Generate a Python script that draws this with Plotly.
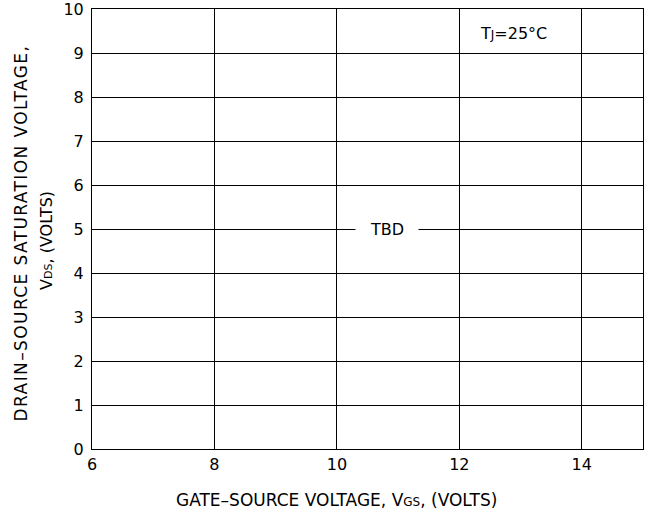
import plotly.graph_objects as go

x_range = [6, 15]
y_range = [0, 10]
x_ticks = [6, 8, 10, 12, 14]
y_ticks = list(range(0, 11))
x_title = 'GATE\u2013SOURCE VOLTAGE, V<span style="font-size:12px">GS</span>, (VOLTS)'
y_title_1 = '<span style="letter-spacing:1.4px">DRAIN\u2013SOURCE SATURATION VOLTAGE,</span>'
y_title_2 = 'V<span style="font-size:11px">DS</span>, (VOLTS)'
note_text = 'T<span style="font-size:12px">J</span>=25\u00b0C'
note_pos = (12.88, 9.45)
tbd_text = 'TBD'
tbd_pos = (10.82, 5)

FONT = "DejaVu Sans"

fig = go.Figure()
fig.add_trace(go.Scatter(x=x_range, y=y_range, mode="markers",
                         marker=dict(opacity=0), hoverinfo="skip", showlegend=False))

axis_common = dict(showline=True, linecolor="black", linewidth=1, mirror=True,
                   showgrid=True, gridcolor="black", gridwidth=1, zeroline=False,
                   ticks="", ticklabeloverflow="allow", automargin=False,
                   tickfont=dict(family=FONT, size=16, color="black"))

fig.update_layout(
    width=647, height=515,
    margin=dict(l=92, r=4, t=9, b=66),
    paper_bgcolor="white", plot_bgcolor="white",
    xaxis=dict(range=x_range, tickvals=x_ticks, ticklabelstandoff=1, **axis_common),
    yaxis=dict(range=y_range, tickvals=y_ticks, ticklabelstandoff=4, **axis_common),
    font=dict(family=FONT, color="black"),
)

fig.add_annotation(text=x_title, xref="paper", yref="paper", x=0.444, y=0,
                   xanchor="center", yanchor="middle", yshift=-51, showarrow=False,
                   font=dict(family=FONT, size=17, color="black"))
fig.add_annotation(text=y_title_1, xref="paper", yref="paper", x=0, y=0.49,
                   xanchor="center", yanchor="middle", xshift=-71, textangle=-90,
                   showarrow=False, font=dict(family=FONT, size=17, color="black"))
fig.add_annotation(text=y_title_2, xref="paper", yref="paper", x=0, y=0.473,
                   xanchor="center", yanchor="middle", xshift=-45, textangle=-90,
                   showarrow=False, font=dict(family=FONT, size=16, color="black"))
fig.add_annotation(text=tbd_text, x=tbd_pos[0], y=tbd_pos[1], showarrow=False,
                   bgcolor="white", borderpad=14,
                   font=dict(family=FONT, size=16, color="black"))
fig.add_annotation(text=note_text, x=note_pos[0], y=note_pos[1], showarrow=False,
                   font=dict(family=FONT, size=16, color="black"))

fig.write_html("out.html", config={"displayModeBar": False},
               post_script="document.body.style.margin='0';document.body.style.overflow='hidden';")
